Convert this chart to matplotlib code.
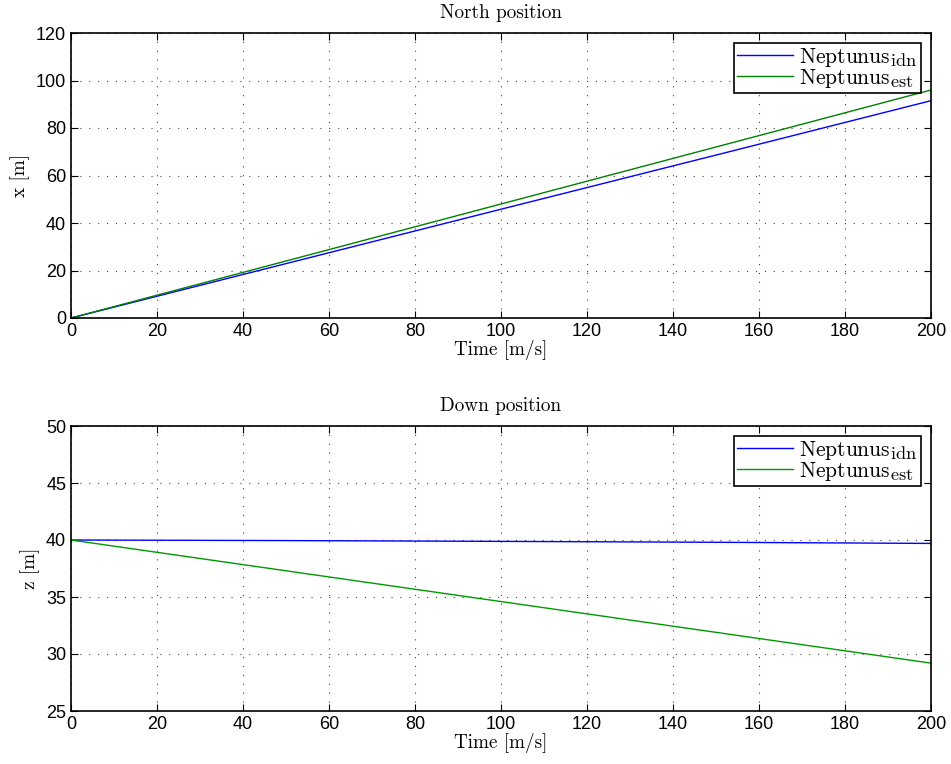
import numpy as np
import matplotlib
matplotlib.use("Agg")
from matplotlib import pyplot as plt
import matplotlib._mathtext as mathtext_internal

time = [0, 50, 100, 150, 200]
north_idn = [0, 22.9, 45.8, 68.6, 91.5]
north_est = [0, 24.0, 48.0, 72.0, 96.0]
down_idn = [40.0, 39.95, 39.88, 39.8, 39.7]
down_est = [40.0, 37.3, 34.6, 31.9, 29.2]

x_ticks = list(range(0, 201, 20))
north_ticks = list(range(0, 121, 20))
down_ticks = list(range(25, 51, 5))

plt.rcParams['mathtext.fontset'] = 'cm'
# LaTeX-rendered legend in the original uses larger subscripts
mathtext_internal.SHRINK_FACTOR = 0.85
serif = {'family': 'cmr10'}


def style_axes(ax, yticks):
    ax.set_xlim(0, 200)
    ax.set_ylim(yticks[0], yticks[-1])
    ax.set_xticks(x_ticks)
    ax.set_yticks(yticks)
    ax.tick_params(direction='in', top=True, right=True, length=5,
                   labelsize=13, width=0.8)
    for lbl in ax.get_xticklabels() + ax.get_yticklabels():
        lbl.set_family('Liberation Sans')
    ax.grid(True, linestyle=(0, (1, 7)), color='#444444', linewidth=0.8)
    for s in ax.spines.values():
        s.set_linewidth(1.2)


fig = plt.figure(figsize=(9.51, 7.64), dpi=100)
ax1 = fig.add_axes([71 / 951, 1 - 318 / 764, 860 / 951, 285 / 764])
ax2 = fig.add_axes([71 / 951, 1 - 711 / 764, 860 / 951, 285 / 764])

ax1.plot(time, north_idn, color=(0, 0, 1), lw=1.0, label=r'Neptunus$_{\mathrm{idn}}$')
ax1.plot(time, north_est, color=(0, 0.5, 0), lw=1.0, label=r'Neptunus$_{\mathrm{est}}$')
style_axes(ax1, north_ticks)
ax1.set_title('North position', fontdict=serif, fontsize=13.8, pad=11)
ax1.set_xlabel('Time [m/s]', fontdict=serif, fontsize=13.8, labelpad=0)
ax1.set_ylabel('x [m]', fontdict=serif, fontsize=13.8, labelpad=4)

ax2.plot(time, down_idn, color=(0, 0, 1), lw=1.0, label=r'Neptunus$_{\mathrm{idn}}$')
ax2.plot(time, down_est, color=(0, 0.6, 0), lw=1.0, label=r'Neptunus$_{\mathrm{est}}$')
style_axes(ax2, down_ticks)
ax2.set_title('Down position', fontdict=serif, fontsize=13.8, pad=11)
ax2.set_xlabel('Time [m/s]', fontdict=serif, fontsize=13.8, labelpad=0)
ax2.set_ylabel('z [m]', fontdict=serif, fontsize=13.8, labelpad=4)

for ax in (ax1, ax2):
    leg = ax.legend(loc='upper right', prop={'family': 'cmr10', 'size': 15.5},
                    fancybox=False, edgecolor='black', framealpha=1,
                    handlelength=2.6, handletextpad=0.3, borderpad=0.15,
                    labelspacing=-0.1, borderaxespad=0.45)
    leg.get_frame().set_linewidth(1.2)

fig.savefig('out.png', dpi=100)
